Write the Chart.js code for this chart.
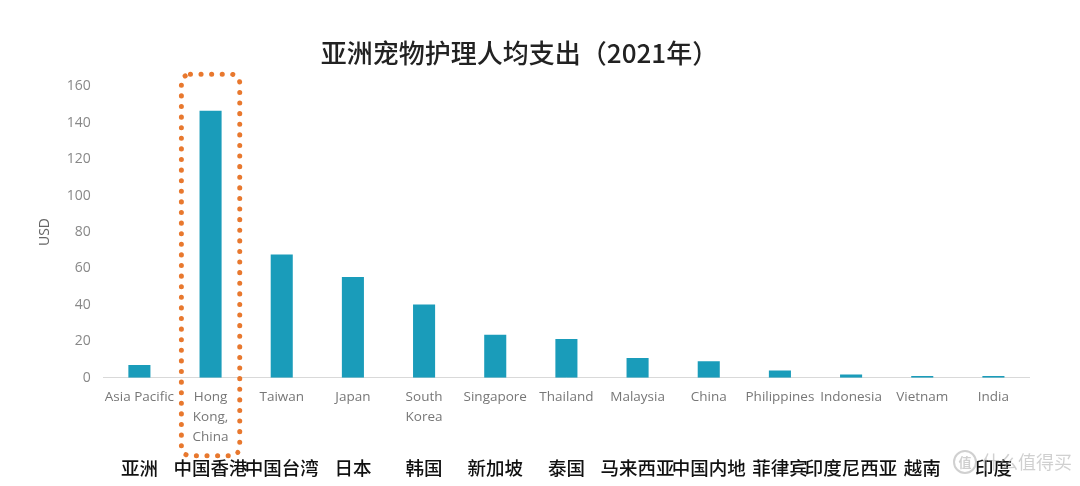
<!DOCTYPE html>
<html>
<head>
<meta charset="utf-8">
<script src="https://cdn.jsdelivr.net/npm/chart.js@4.4.1/dist/chart.umd.min.js"></script>
<style>
html,body{margin:0;padding:0;background:#fff;}
#wrap{width:1080px;height:486px;position:relative;}
</style>
</head>
<body>
<div id="wrap"><canvas id="c" width="1080" height="486"></canvas></div>
<script>
const titleText = '亚洲宠物护理人均支出（2021年）';
const categoriesEn = [
  'Asia Pacific', ['Hong', 'Kong,', 'China'], 'Taiwan', 'Japan', ['South', 'Korea'],
  'Singapore', 'Thailand', 'Malaysia', 'China', 'Philippines', 'Indonesia', 'Vietnam', 'India'
];
const categoriesZh = ['亚洲', '中国香港', '中国台湾', '日本', '韩国', '新加坡', '泰国', '马来西亚', '中国内地', '菲律宾', '印度尼西亚', '越南', '印度'];
const spendUSD = [7, 146.5, 67.7, 55.3, 40.2, 23.7, 21.3, 10.9, 9.1, 4, 1.9, 1, 1];
const yTicks = [0, 20, 40, 60, 80, 100, 120, 140, 160];
const yAxisTitle = 'USD';
const highlightIndex = 1;
const watermark = '什么值得买';

const highlightPlugin = {
  id: 'highlightBox',
  afterDraw(chart) {
    const xs = chart.scales.x, ys = chart.scales.y;
    const cx = xs.getPixelForValue(highlightIndex);
    const catW = xs.getPixelForValue(1) - xs.getPixelForValue(0);
    const w = catW * 0.82;
    const left = cx - w / 2, right = cx + w / 2;
    const top = ys.getPixelForValue(yTicks[yTicks.length - 1]) - 12;
    const bottom = xs.top + 78;
    const r = 9;
    const ctx = chart.ctx;
    ctx.save();
    ctx.strokeStyle = '#E8782E';
    ctx.lineWidth = 5;
    ctx.lineCap = 'round';
    ctx.setLineDash([0.1, 10.5]);
    ctx.beginPath();
    ctx.moveTo(left + r, top);
    ctx.lineTo(right - r, top);
    ctx.arcTo(right, top, right, top + r, r);
    ctx.lineTo(right, bottom - r);
    ctx.arcTo(right, bottom, right - r, bottom, r);
    ctx.lineTo(left + r, bottom);
    ctx.arcTo(left, bottom, left, bottom - r, r);
    ctx.lineTo(left, top + r);
    ctx.arcTo(left, top, left + r, top, r);
    ctx.closePath();
    ctx.stroke();
    ctx.restore();

    // watermark
    ctx.save();
    ctx.globalAlpha = 0.55;
    ctx.fillStyle = '#aaa';
    ctx.strokeStyle = '#aaa';
    ctx.lineWidth = 2;
    ctx.beginPath();
    ctx.arc(965, 462, 11, 0, Math.PI * 2);
    ctx.stroke();
    ctx.font = 'bold 13px "Noto Sans CJK SC"';
    ctx.textAlign = 'center';
    ctx.textBaseline = 'middle';
    ctx.fillText('值', 965, 462);
    ctx.font = '18px "Noto Sans CJK SC"';
    ctx.textAlign = 'left';
    ctx.fillText(watermark, 982, 462);
    ctx.restore();
  }
};

new Chart(document.getElementById('c'), {
  type: 'bar',
  data: {
    labels: categoriesEn,
    datasets: [{
      data: spendUSD,
      backgroundColor: '#1A9CBA',
      borderWidth: 0,
      barPercentage: 0.31,
      categoryPercentage: 1.0
    }]
  },
  options: {
    responsive: false,
    animation: false,
    devicePixelRatio: 1,
    layout: { padding: { left: 10, right: 51, top: 0, bottom: 6 } },
    plugins: {
      legend: { display: false },
      tooltip: { enabled: false },
      title: {
        display: true,
        text: titleText,
        color: '#222',
        font: { family: '"Noto Sans CJK SC"', size: 26, weight: '500' },
        padding: { top: 38, bottom: 17 }
      }
    },
    scales: {
      x: {
        position: 'bottom',
        offset: true,
        grid: { display: false, drawTicks: false },
        border: { display: true, color: '#d9d9d9', width: 1 },
        ticks: {
          autoSkip: false, maxRotation: 0, minRotation: 0,
          color: '#777',
          padding: 9,
          font: { family: '"Open Sans"', size: 13.5, lineHeight: 1.48 }
        }
      },
      x2: {
        type: 'category',
        labels: categoriesZh,
        position: 'bottom',
        offset: true,
        grid: { display: false, drawTicks: false },
        border: { display: false },
        ticks: {
          autoSkip: false, maxRotation: 0, minRotation: 0,
          color: '#111',
          padding: 1,
          font: { family: '"Noto Sans CJK SC"', size: 18.5, weight: '500' }
        }
      },
      y: {
        min: 0, max: 160,
        afterBuildTicks(scale) { scale.ticks = yTicks.map(v => ({ value: v })); },
        grid: { display: false, drawTicks: false },
        border: { display: false },
        title: {
          display: true, text: yAxisTitle, color: '#666',
          font: { family: '"Open Sans"', size: 14 },
          padding: { top: 27, bottom: 0 }
        },
        ticks: {
          color: '#888', padding: 13,
          font: { family: '"Open Sans"', size: 14 }
        }
      }
    }
  },
  plugins: [highlightPlugin]
});
</script>
</body>
</html>
